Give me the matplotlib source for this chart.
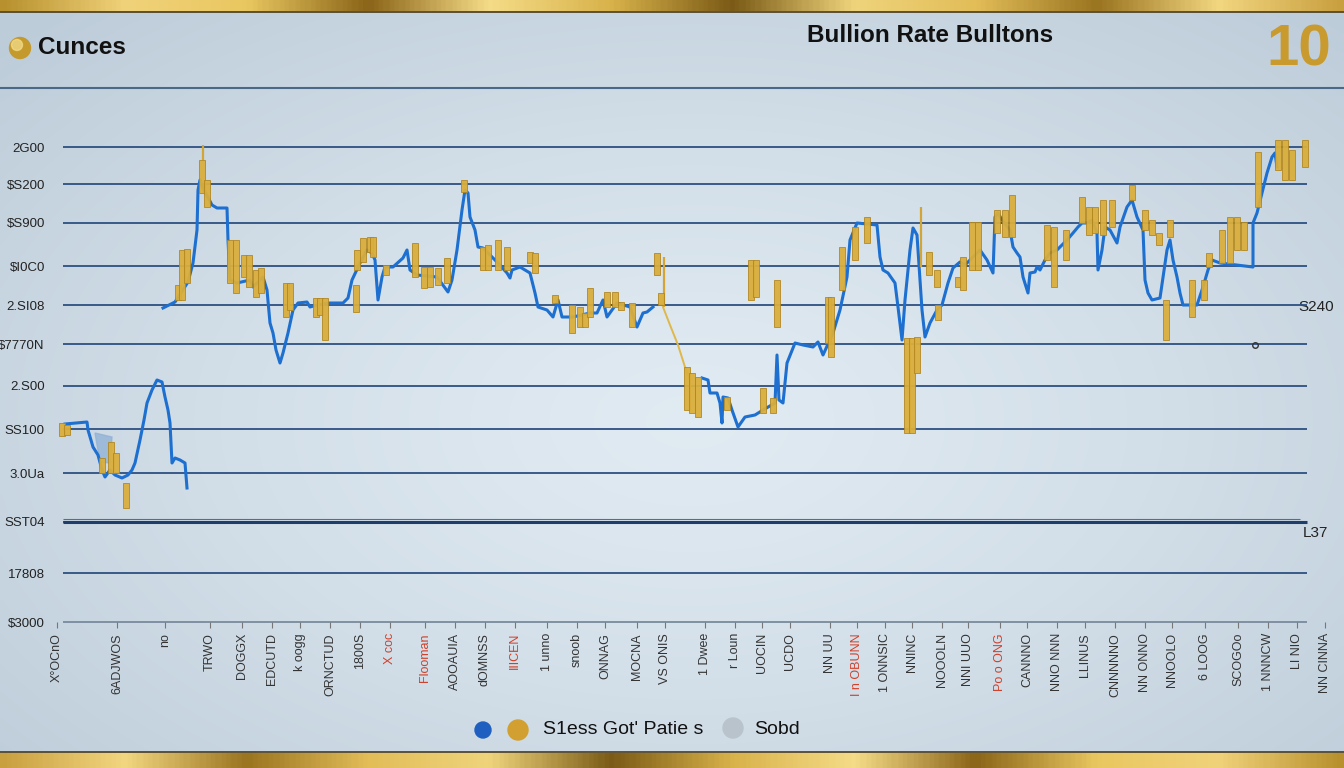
import numpy as np
import matplotlib
matplotlib.use("Agg")
import matplotlib.pyplot as plt
from matplotlib.colors import LinearSegmentedColormap
from matplotlib.patches import Circle

plt.rcParams['font.family'] = ['Liberation Sans', 'DejaVu Sans']

# ---------------- data ----------------
# y-axis gridline values and their (garbled) labels
grid_vals = [553, 516, 477, 434, 395, 356, 314, 271, 227, 178, 127]
ytick_vals = [553, 516, 477, 434, 395, 356, 314, 271, 227, 178, 127, 78]
ytick_labels = ["2G00", "\\$S200", "\\$S900", "\\$I0C0", "2.SI08", "\\$7770N",
                "2.S00", "SS100", "3.0Ua", "SST04", "17808", "\\$3000"]

# x-axis tick positions and labels
xtick_pos = [57, 117, 165, 210, 242, 272, 300, 330, 360, 390, 425, 455, 485, 515,
             547, 577, 605, 637, 665, 705, 735, 762, 790, 830, 857, 885, 912, 942,
             968, 1000, 1027, 1057, 1085, 1115, 1145, 1172, 1205, 1238, 1268, 1297, 1325]
xtick_labels = ["X°OCnO", "6ADJWOS", "no", "TRWO", "DOGGX", "EDCUTD", "k oogg",
                "ORNCTUD", "1800S", "X coc", "Flooman", "AOOAUIA", "dOMNSS", "IIICEN",
                "1 unno", "snoob", "ONNAG", "MOCNA", "VS ONIS", "1 Dwee", "r Loun",
                "UOCIN", "UCDO", "NN UU", "I n OBUNN", "1 ONNSIC", "NNINC", "NOOOLN",
                "NNI UUO", "Po o ONG", "CANNNO", "NNO NNN", "LLINUS", "CNNNNNO",
                "NN ONNO", "NNOOLO", "6 LOOG", "SCOGOo", "1 NNNCW", "LI NIO", "NN CINNA"]
xtick_red = [9, 10, 13, 24, 29]

# blue price line, three segments (x = day position, y = price index)
seg1_x = [65, 87, 88, 93, 98, 102, 105, 110, 115, 122, 128, 132, 135, 140, 144, 147,
          152, 157, 162, 165, 168, 170, 172, 175, 180, 185, 187]
seg1_y = [276, 278, 270, 253, 245, 230, 223, 230, 225, 222, 225, 230, 237, 260, 280,
          297, 310, 320, 318, 303, 290, 277, 237, 242, 240, 237, 212]

seg2_x = [163, 175, 188, 193, 197, 198, 200, 203, 212, 217, 227, 228, 230, 237, 250,
          253, 263, 267, 270, 273, 276, 280, 283, 288, 293, 298, 307, 310, 317, 330,
          343, 348, 352, 360, 367, 372, 375, 378, 382, 385, 393, 403, 407, 410, 417,
          437, 448, 452, 457, 462, 465, 468, 470, 475, 478, 483, 497, 507, 510, 512,
          520, 530, 535, 538, 547, 553, 558, 562, 573, 590, 597, 603, 607, 617, 630,
          637, 643, 647, 653]
seg2_y = [392, 398, 418, 437, 470, 510, 520, 512, 495, 492, 492, 460, 420, 417, 420,
          413, 423, 410, 377, 367, 350, 337, 347, 367, 390, 397, 398, 393, 395, 397,
          397, 402, 420, 437, 450, 447, 440, 400, 423, 433, 433, 442, 450, 430, 425,
          423, 408, 420, 450, 490, 510, 507, 483, 470, 453, 452, 438, 427, 422, 430,
          433, 427, 407, 393, 390, 383, 400, 383, 383, 387, 387, 400, 383, 397, 393,
          373, 387, 388, 393]

seg3_x = [702, 708, 710, 717, 720, 722, 723, 728, 732, 738, 745, 755, 763, 775, 777,
          779, 783, 787, 795, 803, 813, 818, 823, 833, 840, 847, 850, 857, 877, 880,
          883, 888, 895, 898, 902, 905, 910, 913, 917, 919, 922, 925, 930, 937, 942,
          948, 953, 960, 965, 975, 980, 987, 993, 995, 998, 1002, 1010, 1013, 1017,
          1020, 1023, 1028, 1030, 1035, 1037, 1040, 1045, 1050, 1057, 1067, 1073, 1078,
          1082, 1087, 1092, 1097, 1098, 1102, 1105, 1110, 1117, 1120, 1127, 1132, 1137,
          1143, 1145, 1148, 1152, 1160, 1167, 1170, 1173, 1177, 1180, 1183, 1197, 1203,
          1208, 1212, 1220, 1253, 1253, 1257, 1262, 1267, 1272, 1275, 1277]
seg3_y = [322, 320, 307, 307, 297, 277, 303, 302, 290, 273, 283, 285, 290, 297, 345,
          300, 297, 337, 357, 355, 353, 358, 345, 367, 390, 423, 460, 477, 475, 443,
          430, 427, 417, 393, 360, 400, 450, 472, 465, 435, 390, 363, 377, 390, 395,
          417, 432, 438, 435, 445, 450, 440, 427, 483, 487, 480, 470, 453, 447,
          443, 423, 407, 427, 428, 433, 430, 440, 447, 450, 460, 467, 473,
          477, 477, 480, 467, 430, 450, 473, 470, 457, 473, 493, 500, 483,
          470, 420, 407, 400, 402, 450, 460, 440, 423, 407, 395, 395, 413,
          430, 440, 437, 433, 477, 487, 507, 527, 543, 547, 533]

# thin gold connector line
thin_x = [663, 670, 678, 685, 690]
thin_y = [393, 375, 355, 333, 320]

# light blue shaded patch
shade_x = [95, 112, 110, 100]
shade_y = [267, 263, 237, 238]

# gold bars (day position, low, high)
bar_x = [62, 67, 102, 111, 116, 126, 178, 182, 187, 202, 207, 230, 236, 244, 249, 256,
         261, 286, 290, 316, 320, 325, 356, 357, 363, 370, 373, 386, 415, 424, 430, 438,
         447, 464, 483, 488, 498, 507, 530, 535, 555, 572, 580, 585, 590, 607, 615, 621,
         632, 657, 661, 687, 692, 698, 727, 751, 756, 763, 773, 777, 828, 831, 842, 855,
         867, 907, 912, 917, 929, 937, 938, 958, 963, 972, 978, 997, 1005, 1012, 1047,
         1054, 1066, 1082, 1089, 1095, 1103, 1112, 1132, 1145, 1152, 1159, 1170, 1166,
         1192, 1204, 1209, 1222, 1230, 1237, 1244, 1258, 1278, 1285, 1292, 1305]
bar_lo = [264, 265, 227, 227, 227, 192, 400, 400, 417, 507, 493, 417, 407, 423, 413, 403,
          407, 383, 390, 383, 385, 360, 388, 430, 438, 448, 443, 425, 423, 412, 413, 415,
          417, 508, 430, 430, 430, 430, 437, 427, 397, 367, 373, 373, 383, 393, 393, 390,
          373, 425, 395, 290, 287, 283, 290, 400, 403, 287, 287, 373, 357, 343, 410, 440,
          457, 267, 267, 327, 425, 413, 380, 413, 410, 430, 430, 467, 463, 463, 440,
          413, 440, 477, 465, 467, 465, 473, 500, 470, 465, 455, 463, 360,
          383, 400, 433, 437, 437, 450, 450, 493, 530, 520, 520, 533]
bar_hi = [277, 275, 242, 258, 247, 217, 415, 450, 451, 540, 520, 460, 460, 445, 445, 430,
          432, 417, 417, 402, 402, 402, 415, 450, 462, 463, 463, 435, 457, 433, 433, 432,
          442, 520, 453, 455, 460, 453, 448, 447, 405, 395, 393, 387, 412, 408, 408, 398,
          397, 447, 407, 333, 327, 323, 303, 440, 440, 312, 302, 420, 403, 403, 453, 473,
          483, 362, 362, 363, 448, 430, 395, 423, 443, 478, 478, 490, 490, 505, 475,
          473, 470, 503, 493, 493, 500, 500, 515, 490, 480, 467, 480, 400,
          420, 420, 447, 470, 483, 483, 478, 548, 560, 560, 550, 560]

# thin wicks (day position, low, high)
wick_x = [203, 664, 921]
wick_lo = [540, 393, 433]
wick_hi = [555, 443, 493]

# marker point
dot_x = [1255]
dot_y = [355]

# ---------------- figure ----------------
fig = plt.figure(figsize=(13.44, 7.68), dpi=100)

bg = fig.add_axes([0, 0, 1, 1])
yy, xx = np.mgrid[0:768:4, 0:1344:4]
r = np.sqrt(((xx - 690) / 950.0) ** 2 + ((yy - 420) / 560.0) ** 2)
t = np.clip(r, 0, 1)[..., None] ** 1.3
c_in = np.array([0.88, 0.92, 0.95])
c_out = np.array([0.74, 0.80, 0.85])
img = c_in * (1 - t) + c_out * t
bg.imshow(img, extent=[0, 1344, 768, 0], aspect='auto', zorder=0,
          interpolation='bilinear')

gold = LinearSegmentedColormap.from_list(
    'gold', ['#b8912e', '#f0d27a', '#e9c760', '#8a6418', '#f5dc88', '#d8b24a',
             '#7a5a16', '#efd47c', '#e2bd58', '#9a7420', '#f2d680', '#c9a040'])
band = np.tile(np.linspace(0, 1, 600), (6, 1))
bg.imshow(band, cmap=gold, extent=[0, 1344, 11, 0], aspect='auto', zorder=1)
bg.imshow(band[:, ::-1], cmap=gold, extent=[0, 1344, 768, 753], aspect='auto', zorder=1)
bg.plot([0, 1344], [11.5, 11.5], color='#4a3a18', lw=1.2, zorder=2)
bg.plot([0, 1344], [752, 752], color='#4a3a18', lw=1.2, zorder=2)
bg.plot([0, 1344], [88, 88], color='#4a6888', lw=1.5, zorder=2)

# header
bg.add_patch(Circle((20, 48), 10.5, color='#c49a2c', zorder=3))
bg.add_patch(Circle((17, 45), 5.5, color='#f3dc8a', alpha=0.75, zorder=4))
bg.text(38, 48, 'Cunces', fontsize=17.5, fontweight='bold', ha='left', va='center',
        color='#111111', zorder=5)
bg.text(930, 36, 'Bullion Rate Bulltons', fontsize=17.5, fontweight='bold', ha='center',
        va='center', color='#111111', zorder=5)
bg.text(1266, 50, '10', fontsize=42, fontweight='bold', ha='left', va='center',
        color='#c99a2e', zorder=5)

# legend
bg.add_patch(Circle((483, 730), 8, color='#1f5fbf', zorder=3))
bg.add_patch(Circle((518, 730), 10, color='#d2a030', zorder=3))
bg.text(543, 730, "S1ess Got' Patie s", fontsize=14, ha='left', va='center',
        color='#111111', zorder=5)
bg.add_patch(Circle((733, 728), 10, color='#b9c3cb', zorder=3))
bg.text(754, 730, 'Sobd', fontsize=14, ha='left', va='center', color='#111111', zorder=5)

# right-side labels
bg.text(1298, 307, 'S240', fontsize=11, ha='left', va='center', color='#222222', zorder=5)
bg.text(1303, 533, 'L37', fontsize=11, ha='left', va='center', color='#222222', zorder=5)

bg.set_xlim(0, 1344)
bg.set_ylim(768, 0)
bg.axis('off')

# plot area (spans px 40..1330 horizontally, 100..622 vertically)
ax = fig.add_axes([40 / 1344, 146 / 768, 1290 / 1344, 522 / 768])
ax.patch.set_alpha(0)
for s in ['top', 'right', 'left', 'bottom']:
    ax.spines[s].set_visible(False)

ax.hlines([78], 63, 1307, colors='#7f90a2', lw=1.4, zorder=1, clip_on=False)
ax.hlines(grid_vals, 63, 1307, colors='#2d4f80', lw=1.3, zorder=1)
ax.hlines([178], 63, 1307, colors='#1f3d6b', lw=2.2, zorder=1)
ax.hlines([181], 63, 1300, colors='#4f6f95', lw=0.8, zorder=1)

ax.fill(shade_x, shade_y, color='#8fb0d6', alpha=0.75, zorder=2)
for sx, sy in [(seg1_x, seg1_y), (seg2_x, seg2_y), (seg3_x, seg3_y)]:
    ax.plot(sx, sy, color='#1d6fd0', lw=2.2, solid_joinstyle='round', zorder=3)
ax.plot(thin_x, thin_y, color='#e0b84a', lw=1.4, zorder=3)
ax.vlines(wick_x, wick_lo, wick_hi, colors='#d2a535', lw=1.6, zorder=4)
ax.bar(bar_x, np.array(bar_hi) - np.array(bar_lo), bottom=bar_lo, width=6.5,
       color='#d9ae3c', edgecolor='#b0841a', linewidth=0.6, alpha=0.95, zorder=4)
ax.plot(dot_x, dot_y, marker='o', mfc='none', mec='#333333', ms=4, zorder=5)

ax.set_yticks(ytick_vals, ytick_labels)
ax.tick_params(axis='y', length=0, pad=-3.5, labelsize=9.5, labelcolor='#222222')
ax.set_xticks(xtick_pos, xtick_labels, rotation=90)
ax.tick_params(axis='x', length=4, width=0.8, color='#777777', pad=4, labelsize=9,
               labelcolor='#333333')
for i, lab in enumerate(ax.get_xticklabels()):
    if i in xtick_red:
        lab.set_color('#d0402a')

ax.set_xlim(40, 1330)
ax.set_ylim(78, 600)

fig.savefig('out.png', dpi=100)
